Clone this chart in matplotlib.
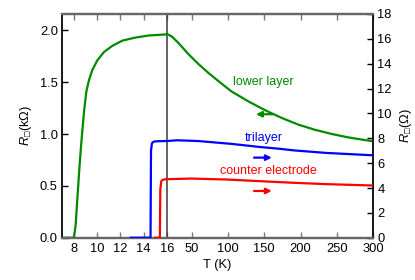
import numpy as np
import matplotlib
matplotlib.use("Agg")
import matplotlib.pyplot as plt

plt.rcParams['font.family'] = ['Liberation Sans', 'DejaVu Sans']
plt.rcParams['mathtext.fontset'] = 'custom'
plt.rcParams['mathtext.rm'] = 'Liberation Sans'
plt.rcParams['mathtext.it'] = 'Liberation Sans:italic'
plt.rcParams['mathtext.fallback'] = 'stixsans'

# ---- data ----
T_lower = [7.0, 7.95, 8.03, 8.17, 8.32, 8.51, 8.69, 8.89, 9.09, 9.32, 9.60, 10.03, 10.6,
           11.32, 12.17, 13.31, 14.46, 15.9, 16,
           22.9, 32, 45.7, 59.4, 73, 87, 105, 128, 151, 174, 197, 220, 243, 265, 288, 300]
R_lower = [0, 0, 0.01, 0.12, 0.38, 0.70, 0.96, 1.215, 1.41, 1.52, 1.617, 1.71, 1.79,
           1.85, 1.90, 1.93, 1.95, 1.96, 1.965,
           1.94, 1.877, 1.77, 1.675, 1.59, 1.51, 1.41, 1.315, 1.23, 1.155, 1.09, 1.04, 1.00,
           0.968, 0.942, 0.93]   # kOhm

T_tri = [12.9, 14.6, 14.64, 14.72, 14.85, 15.1, 16, 30, 59, 105, 144, 172, 190, 236, 300]
R_tri = [0, 0, 7.0, 7.6, 7.72, 7.76, 7.78, 7.84, 7.78, 7.55, 7.3, 7.15, 7.03, 6.82, 6.63]  # Ohm

T_ce = [15.0, 15.4, 15.44, 15.52, 15.65, 15.85, 16, 50, 100, 144, 190, 236, 300]
R_ce = [0, 0, 3.9, 4.55, 4.66, 4.7, 4.71, 4.76, 4.68, 4.55, 4.42, 4.31, 4.2]  # Ohm

x_ticks = [8, 10, 12, 14, 16, 50, 100, 150, 200, 250, 300]
yl_ticks = [0.0, 0.5, 1.0, 1.5, 2.0]
yr_ticks = list(range(0, 19, 2))

T_break = 16.0
K = 0.0624  # compression of the high-T section

def fwd(x):
    x = np.asarray(x, dtype=float)
    return np.where(x <= T_break, x, T_break + (x - T_break) * K)

def inv(y):
    y = np.asarray(y, dtype=float)
    return np.where(y <= T_break, y, T_break + (y - T_break) / K)

fig = plt.figure(figsize=(4.15, 2.8), dpi=100)
ax = fig.add_axes([0.1494, 0.151, 0.7501, 0.799])
ax.set_xscale('function', functions=(fwd, inv))
ax2 = ax.twinx()

green = '#008a00'
ax.plot(T_lower, R_lower, color=green, lw=1.6, zorder=3)
ax2.plot(T_tri, R_tri, color='#0000ff', lw=1.6, zorder=3)
ax2.plot(T_ce, R_ce, color='#ff0000', lw=1.6, zorder=3)
ax.axvline(T_break, color='#3a3a3a', lw=1.1, zorder=2)

ax.set_xlim(7.0, 300)
ax.set_ylim(0, 2.157)
ax2.set_ylim(0, 18)
ax.set_xticks(x_ticks)
ax.set_xticklabels([str(t) for t in x_ticks])
ax.set_yticks(yl_ticks)
ax.set_yticklabels([f"{v:.1f}" for v in yl_ticks])
ax2.set_yticks(yr_ticks)
ax.minorticks_off()

fs = 9.3
ax.tick_params(axis='x', which='both', direction='in', top=True, length=4, width=1,
               color='#777777', labelsize=fs, pad=4)
ax.tick_params(axis='y', direction='in', length=4, width=1, labelsize=fs, pad=3)
ax2.tick_params(axis='y', direction='in', length=4, width=1, labelsize=fs, pad=3)

for a in (ax, ax2):
    a.spines['top'].set_color('#666666')
    a.spines['bottom'].set_color('#666666')
    a.spines['top'].set_linewidth(1.6)
    a.spines['bottom'].set_linewidth(1.6)
    a.spines['left'].set_color('#111111')
    a.spines['right'].set_color('#111111')
    a.spines['left'].set_linewidth(1.1)
    a.spines['right'].set_linewidth(1.1)

ax.set_xlabel('T (K)', fontsize=fs, labelpad=3)
ax.set_ylabel('$R_{\u25a1}$(k$\\Omega$)', fontsize=fs, labelpad=4)
ax2.set_ylabel('$R_{\u25a1}$($\\Omega$)', fontsize=fs, labelpad=4)

tfs = 9
ax.text(0.647, 0.697, 'lower layer', color=green, fontsize=tfs, ha='center', va='center',
        transform=ax.transAxes)
ax.text(0.649, 0.447, 'trilayer', color='#0000ff', fontsize=tfs, ha='center', va='center',
        transform=ax.transAxes)
ax.text(0.662, 0.300, 'counter electrode', color='#ff0000', fontsize=tfs, ha='center', va='center',
        transform=ax.transAxes)

arrow_kw = dict(arrowstyle='-|>', lw=1.6, mutation_scale=8, shrinkA=0, shrinkB=0)
ax.annotate('', xy=(0.623, 0.552), xytext=(0.678, 0.552), xycoords='axes fraction',
            arrowprops=dict(color=green, **arrow_kw))
ax.annotate('', xy=(0.674, 0.358), xytext=(0.617, 0.358), xycoords='axes fraction',
            arrowprops=dict(color='#0000ff', **arrow_kw))
ax.annotate('', xy=(0.674, 0.209), xytext=(0.617, 0.209), xycoords='axes fraction',
            arrowprops=dict(color='#ff0000', **arrow_kw))

fig.savefig('out.png', dpi=100)
